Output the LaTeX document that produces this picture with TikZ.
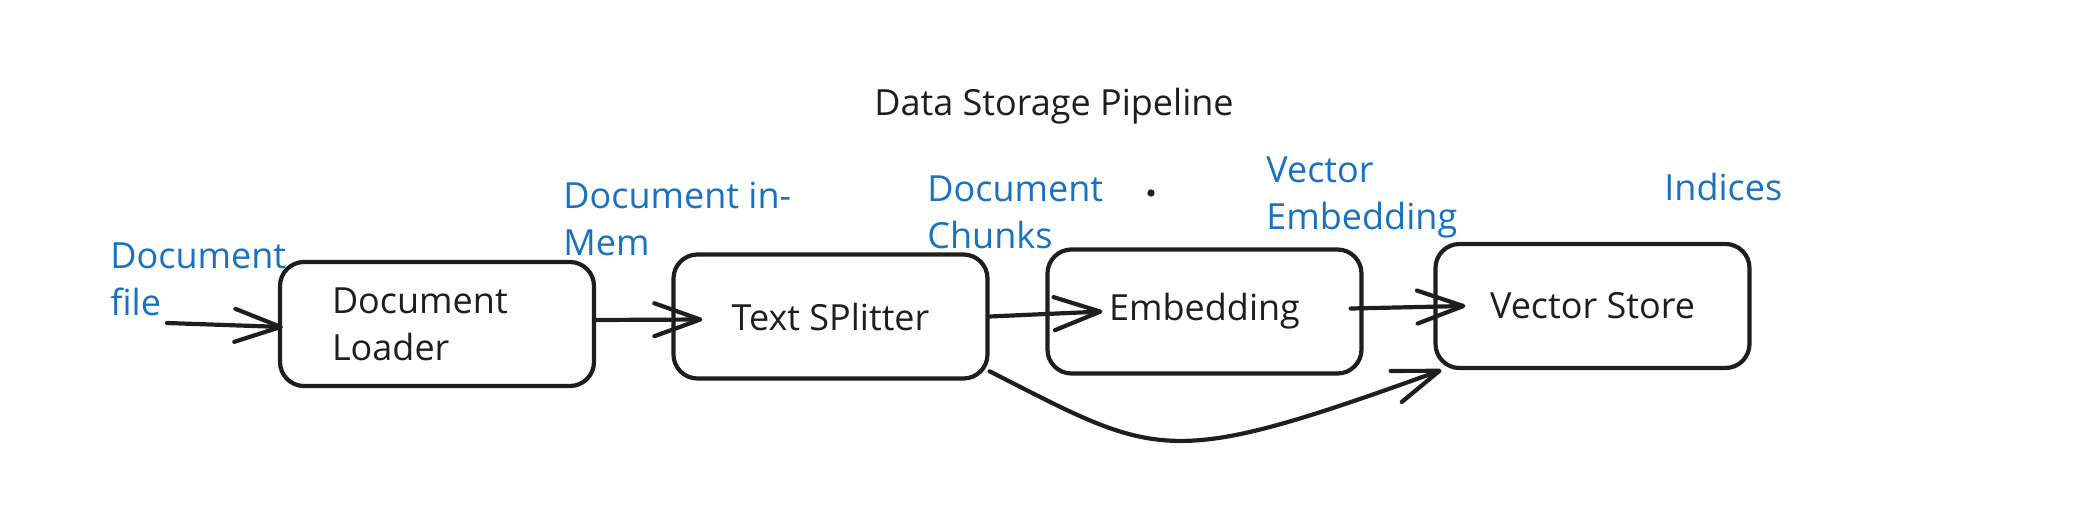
\documentclass[tikz,border=0pt]{standalone}
\usepackage{fontspec}
\setmainfont{Open Sans}
\usetikzlibrary{arrows.meta,calc}
\definecolor{inkblack}{HTML}{1E1E1E}
\definecolor{inkblue}{HTML}{1971C2}

\begin{document}
\begin{tikzpicture}[x=0.5pt,y=-0.5pt,
	box/.style={draw=inkblack, line width=2.1pt, rounded corners=12pt, minimum width=157pt, minimum height=62pt, text=inkblack, font=\fontsize{18}{23.5}\selectfont},
	lbl/.style={text=inkblue, anchor=west, align=left, inner sep=0pt, font=\fontsize{18}{23.5}\selectfont},
	arr/.style={draw=inkblack, line width=2.1pt, line cap=round, -{Straight Barb[length=23pt,width=16.5pt,round]}}]
	\useasboundingbox (0,0) rectangle (2074,530);
	\node[text=inkblack, font=\fontsize{18}{23.5}\selectfont] (title) at (1054,106) {Data Storage Pipeline};
	% boxes
	\node[box, text width=105pt, align=left] (loader) at (437,324) {Document\\Loader};
	\node[box] (splitter) at (830.5,316.5) {Text SPlitter};
	\node[box] (embedding) at (1204.5,311.5) {Embedding};
	\node[box] (store) at (1592.5,306) {Vector Store};
	% labels
	\node[lbl] (filelbl) at (110,279) {Document\\file};
	\node[lbl] (inmemlbl) at (563,219) {Document in-\\Mem};
	\node[lbl] (chunkslbl) at (927,212) {Document\\Chunks};
	\node[lbl] (veclbl) at (1266,197) {Vector\\Embedding};
	\node[lbl] (idxlbl) at (1664,187) {Indices};
	\node[circle, fill=inkblack, inner sep=1.3pt] (dot) at (1151,193) {};
	\coordinate (filein) at (167,323);
	% arrows
	\draw[arr] (filein) -- ($(loader.west)+(5,3)$);
	\draw[arr] ($(loader.east)+(0,-4)$) -- ($(splitter.west)+(31,3)$);
	\draw[arr] (splitter.east) -- ($(embedding.west)+(57,0)$);
	\draw[arr] ($(embedding.east)+(-13,-3)$) -- ($(store.west)+(32,0)$);
	\draw[arr] (splitter.-19) .. controls (1160,458) and (1165,470) .. (store.-157);
\end{tikzpicture}
\end{document}
